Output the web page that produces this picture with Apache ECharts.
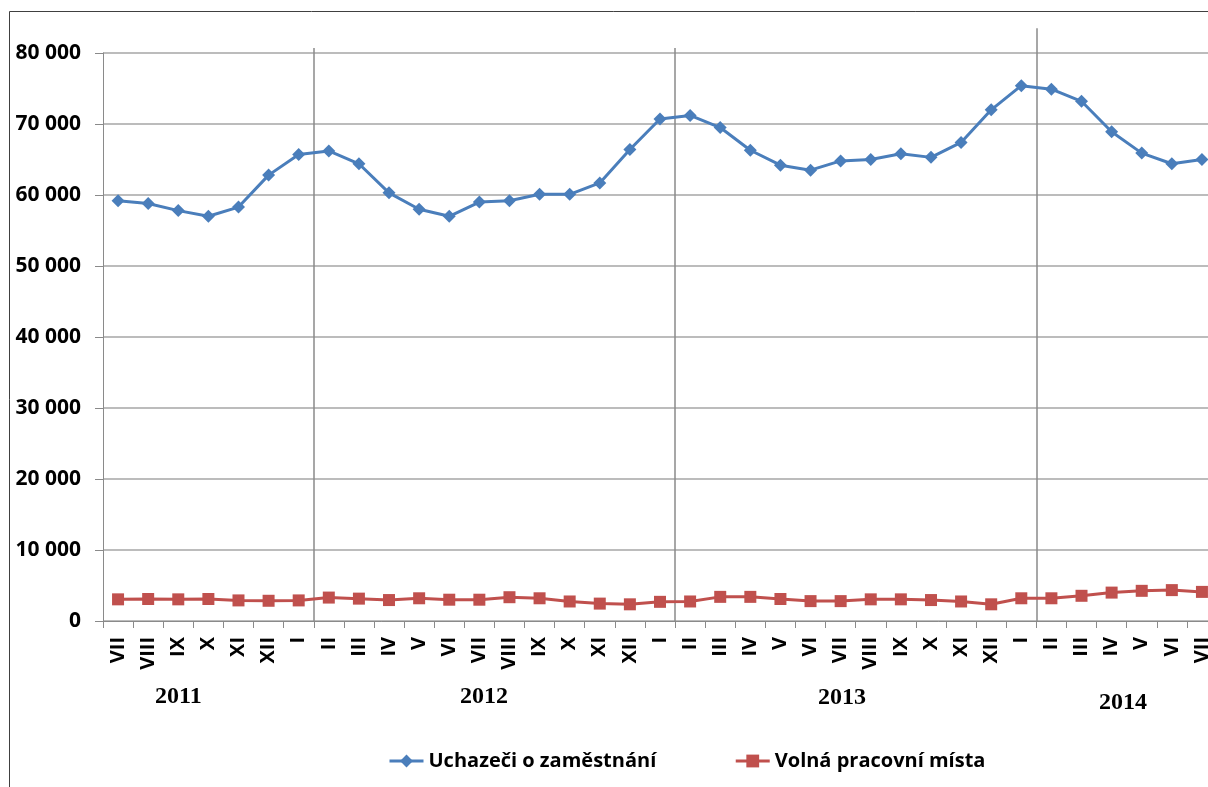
<!DOCTYPE html>
<html>
<head>
<meta charset="utf-8">
<script src="https://cdn.jsdelivr.net/npm/echarts@6/dist/echarts.min.js"></script>
<style>
html,body{margin:0;padding:0;background:#fff;overflow:hidden;width:1208px;height:787px;}
#chart{width:1218px;height:787px;}
</style>
</head>
<body>
<div id="chart"></div>
<script>
// Data
var months = ['VII','VIII','IX','X','XI','XII',
  'I','II','III','IV','V','VI','VII','VIII','IX','X','XI','XII',
  'I','II','III','IV','V','VI','VII','VIII','IX','X','XI','XII',
  'I','II','III','IV','V','VI','VII'];
var uchazeci = [59200,58800,57800,57000,58300,62800,
  65700,66200,64400,60300,58000,57000,59000,59200,60100,60100,61700,66400,
  70700,71200,69500,66300,64200,63500,64800,65000,65800,65300,67400,72000,
  75400,74900,73200,68900,65900,64400,65000];
var volnaMista = [3050,3100,3050,3100,2900,2850,
  2900,3300,3150,2950,3200,3000,3000,3350,3200,2750,2450,2350,
  2700,2750,3400,3400,3100,2800,2800,3050,3050,2950,2750,2350,
  3200,3200,3550,4000,4250,4350,4100];
var seriesNames = ['Uchazeči o zaměstnání','Volná pracovní místa'];
var years = ['2011','2012','2013','2014'];
// year separator positions (category boundaries after January) and their heights
var yearSeparators = [[6.5, 80700],[18.5, 80700],[30.5, 83500]];
var yTicks = {min:0, max:80000, interval:10000};

var chart = echarts.init(document.getElementById('chart'));
var sans = '"Open Sans", "Liberation Sans", sans-serif';
var serif = '"Liberation Serif", "DejaVu Serif", serif';

var sepLines = yearSeparators.map(function(s){
  return {coords: [[s[0], 0], [s[0], s[1]]]};
});

var option = {
  animation: false,
  backgroundColor: '#fff',
  grid: {left: 103, top: 53, right: 1, bottom: 166, containLabel: false},
  xAxis: [{
    type: 'category',
    data: months,
    boundaryGap: true,
    axisLine: {show: true, lineStyle: {color: '#8a8a8a', width: 1}},
    axisTick: {show: true, length: 7, interval: 0, lineStyle: {color: '#8a8a8a'}},
    axisLabel: {interval: 0, rotate: 90, margin: 16, fontFamily: sans, fontWeight: 'bold', fontSize: 20, color: '#000'},
    splitLine: {show: false}
  }, {
    type: 'value',
    min: -0.5, max: 36.5,
    show: false,
    position: 'bottom'
  }],
  yAxis: {
    type: 'value',
    min: yTicks.min, max: yTicks.max, interval: yTicks.interval,
    axisLine: {show: true, onZero: false, lineStyle: {color: '#8a8a8a', width: 1}},
    axisTick: {show: true, length: 8, lineStyle: {color: '#8a8a8a'}},
    axisLabel: {
      margin: 22, fontFamily: sans, fontWeight: 'bold', fontSize: 21, color: '#000',
      formatter: function(v){ return v === 0 ? '0' : String(v).replace(/\B(?=(\d{3})+(?!\d))/g, ' '); }
    },
    splitLine: {show: true, lineStyle: {color: '#a6a6a6', width: 1.5}}
  },
  legend: {
    left: 383, top: 746,
    itemWidth: 34, itemHeight: 16, itemGap: 78,
    lineStyle: {width: 3},
    data: seriesNames,
    textStyle: {fontFamily: sans, fontWeight: 'bold', fontSize: 20, color: '#000'}
  },
  graphic: [
    {type: 'line', shape: {x1: 9.5, y1: 11.5, x2: 1218, y2: 11.5}, style: {stroke: '#404040', lineWidth: 1}},
    {type: 'line', shape: {x1: 9.5, y1: 11.5, x2: 9.5, y2: 787}, style: {stroke: '#404040', lineWidth: 1}},
    {type: 'text', left: 155, top: 685, style: {text: years[0], font: 'bold 24px ' + serif, fill: '#000'}},
    {type: 'text', left: 460, top: 685, style: {text: years[1], font: 'bold 24px ' + serif, fill: '#000'}},
    {type: 'text', left: 818, top: 686, style: {text: years[2], font: 'bold 24px ' + serif, fill: '#000'}},
    {type: 'text', left: 1099, top: 691, style: {text: years[3], font: 'bold 24px ' + serif, fill: '#000'}}
  ],
  series: [{
    name: seriesNames[0],
    type: 'line',
    data: uchazeci,
    symbol: 'diamond',
    symbolSize: 13,
    lineStyle: {color: '#4a7ebb', width: 3},
    itemStyle: {color: '#4a7ebb'},
    z: 5
  }, {
    name: seriesNames[1],
    type: 'line',
    data: volnaMista,
    symbol: 'rect',
    symbolSize: 12,
    lineStyle: {color: '#c0504d', width: 3},
    itemStyle: {color: '#c0504d'},
    z: 5
  }, {
    type: 'lines',
    coordinateSystem: 'cartesian2d',
    xAxisIndex: 1,
    yAxisIndex: 0,
    clip: false,
    silent: true,
    lineStyle: {color: '#8a8a8a', width: 1.5, opacity: 1},
    data: sepLines,
    z: 1
  }]
};
chart.setOption(option);
</script>
</body>
</html>
